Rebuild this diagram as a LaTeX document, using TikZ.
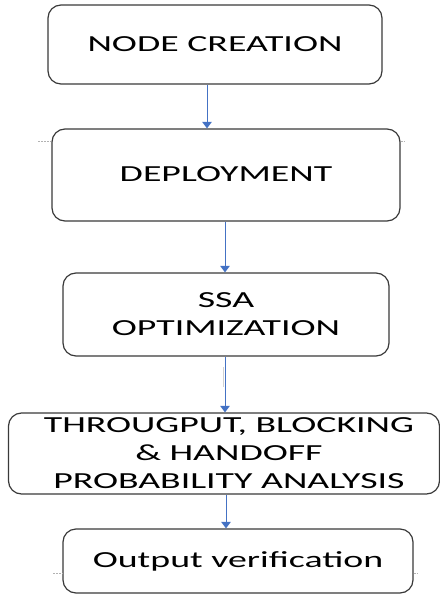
\documentclass[tikz,border=0pt]{standalone}
\usepackage{graphicx}
\usepackage{fontspec}
\setmainfont{Carlito}
\usetikzlibrary{arrows.meta}
\definecolor{flowblue}{HTML}{4472C4}
\definecolor{boxline}{HTML}{3A3A3A}
% wide caption text: stretched horizontally, lines centred on the node centre
\newcommand\widecaption[1]{\raisebox{-7.6pt}[0pt][0pt]{\scalebox{1.645}[1]{\begin{tabular}{@{}c@{}}#1\end{tabular}}}}
\tikzset{
  stage/.style={draw=boxline, line width=1.2pt, rounded corners=13pt, fill=white,
    align=center, font=\fontsize{23}{28}\selectfont, inner sep=0pt},
  flow/.style={draw=flowblue, line width=1pt, -{Triangle[length=6.5pt,width=9.5pt]}},
  tick/.style={draw=gray!60, line width=0.6pt, dashed, dash pattern=on 2pt off 1pt}
}
\begin{document}
\begin{tikzpicture}[x=1pt,y=-1pt]
\useasboundingbox (0,0) rectangle (439,596);
% process stages
\node[stage, minimum width=334pt, minimum height=79pt] (create) at (215,44.5) {\widecaption{NODE CREATION}};
\node[stage, minimum width=348pt, minimum height=92pt] (deploy) at (226,175) {\widecaption{DEPLOYMENT}};
\node[stage, minimum width=326pt, minimum height=83pt] (ssa) at (226,314.5) {\widecaption{SSA\\OPTIMIZATION}};
\node[stage, minimum width=431pt, minimum height=81pt] (analysis) at (224,453.5) {\widecaption{\hspace*{6pt}THROUGPUT, BLOCKING\\\hspace*{6pt}\& HANDOFF\\\hspace*{6pt}PROBABILITY ANALYSIS}};
\node[stage, minimum width=350pt, minimum height=64pt] (verify) at (238,561) {\widecaption{Output verification}};
% connectors
\draw[flow] (create.south -| 207,0) -- (deploy.north -| 207,0);
\draw[flow] (deploy.south -| 225,0) -- (ssa.north -| 225,0);
\draw[flow] (ssa.south -| 225,0) -- (analysis.north -| 225,0);
\draw[flow] (analysis.south -| 226,0) -- (verify.north -| 226,0);
% small guide marks beside the boxes
\draw[tick] (38,141) -- (deploy.west |- 0,141);
\draw[tick] (deploy.east |- 0,141) -- (405,141);
\draw[tick] (53,573) -- (verify.west |- 0,573);
\draw[tick] (verify.east |- 0,573) -- (418,573);
\draw[draw=gray!35, line width=0.8pt] (223,367) -- (223,387);
\end{tikzpicture}
\end{document}
